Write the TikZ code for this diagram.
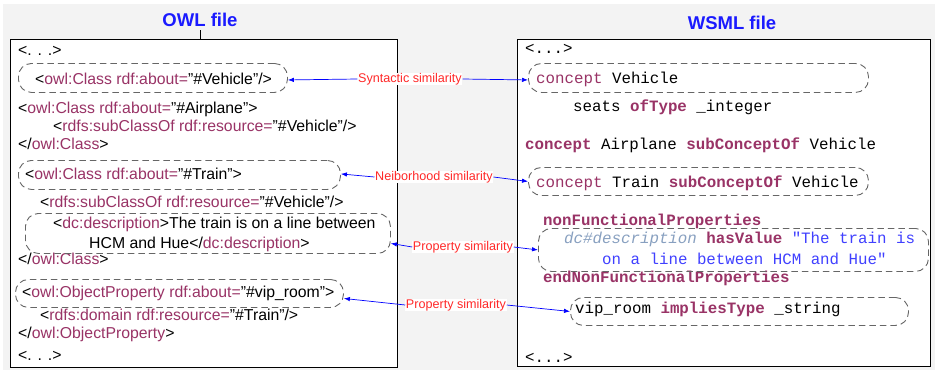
\documentclass[tikz,border=0pt]{standalone}
\usepackage{fontspec}
\setmainfont{Liberation Sans}
\setmonofont{Liberation Mono}
\usetikzlibrary{arrows.meta}
\usetikzlibrary{backgrounds}

\definecolor{tagcol}{RGB}{153,51,102}
\definecolor{strcol}{RGB}{64,64,255}
\definecolor{dccol}{RGB}{136,160,192}
\definecolor{titlecol}{RGB}{26,26,255}
\definecolor{simcol}{RGB}{255,40,40}
\definecolor{bgcol}{RGB}{243,243,243}

\newcommand{\tg}[1]{\textcolor{tagcol}{#1}}
\newcommand{\kw}[1]{\textcolor{tagcol}{\textbf{#1}}}

\begin{document}
\begin{tikzpicture}[x=1pt,y=-1pt,
	owl/.style={anchor=base west, inner sep=0pt, font=\fontsize{15.8}{18}\selectfont},
	wsml/.style={anchor=base west, inner sep=0pt, font=\ttfamily\fontsize{15.8}{18}\selectfont},
	match/.style={draw=black!60, dash pattern=on 6.5pt off 4pt, rounded corners=13pt, line width=0.9pt, anchor=north west, inner sep=0pt},
	simlabel/.style={fill=white, inner sep=0.5pt, text=simcol, font=\fontsize{12.6}{14}\selectfont},
	simarrow/.style={draw=blue, line width=0.7pt, -{Latex[length=6pt,width=4.5pt]}},
	filebox/.style={draw=black, fill=white, line width=1pt, anchor=north west, inner sep=0pt},
	title/.style={text=titlecol, font=\bfseries\fontsize{18.5}{20}\selectfont}]
	
	\fill[white] (0,0) rectangle (935,370);
	\fill[bgcol] (3,4) rectangle (935,370);
	\useasboundingbox (0,0) rectangle (935,370);
	
	% the two files
	\node[title] (owltitle) at (200,20) {OWL file};
	\node[title] (wsmltitle) at (732,23) {WSML file};
	\node[filebox, minimum width=387pt, minimum height=328pt] (owlbox) at (10,39) {};
	\node[filebox, minimum width=413pt, minimum height=327pt] (wsmlbox) at (517,39) {};
	\draw (owltitle.south) -- (owltitle.south |- owlbox.north);
	
	% OWL side
	\node[owl] (owl1) at (18,55) {<. . .>};
	\node[owl] (owl2) at (35,84) {<\tg{owl:Class rdf:about=}"\#Vehicle"/>};
	\node[owl] (owl3) at (18,113) {<\tg{owl:Class rdf:about=}"\#Airplane">};
	\node[owl] (owl4) at (53,131) {<\tg{rdfs:subClassOf rdf:resource=}"\#Vehicle"/>};
	\node[owl] (owl5) at (18,149) {</\tg{owl:Class}>};
	\node[owl] (owl6) at (25,179) {<\tg{owl:Class rdf:about=}"\#Train">};
	\node[owl] (owl7) at (40,207) {<\tg{rdfs:subClassOf rdf:resource=}"\#Vehicle"/>};
	\node[owl] (owl8) at (53,228) {<\tg{dc:description}>The train is on a line between};
	\node[owl] (owl9) at (89,248) {HCM and Hue</\tg{dc:description}>};
	\node[owl] (owl10) at (18,264) {</\tg{owl:Class}>};
	\node[owl] (owl11) at (22,297) {<\tg{owl:ObjectProperty rdf:about=}"\#vip\_room">};
	\node[owl] (owl12) at (40,320) {<\tg{rdfs:domain rdf:resource=}"\#Train"/>};
	\node[owl] (owl13) at (18,338) {</\tg{owl:ObjectProperty}>};
	\node[owl] (owl14) at (18,360) {<. . .>};
	
	\node[match, minimum width=269pt, minimum height=29pt] (owlveh) at (18,63) {};
	\node[match, minimum width=322pt, minimum height=29pt] (owltrain) at (18,160) {};
	\node[match, minimum width=365pt, minimum height=40pt] (owldesc) at (25,213) {};
	\node[match, minimum width=328pt, minimum height=28pt] (owlvip) at (15,279) {};
	
	% WSML side
	\node[wsml] (wsml1) at (525,53) {<...>};
	\node[wsml] (wsml2) at (536,83) {\tg{concept} Vehicle};
	\node[wsml] (wsml3) at (573,111) {seats \kw{ofType} \_integer};
	\node[wsml] (wsml4) at (525,149) {\kw{concept} Airplane \kw{subConceptOf} Vehicle};
	\node[wsml] (wsml5) at (536,187) {\tg{concept} Train \kw{subConceptOf} Vehicle};
	\node[wsml] (wsml6) at (543,225) {\kw{nonFunctionalProperties}};
	\node[wsml] (wsml7) at (564,243) {\textcolor{dccol}{\textit{dc\#description}} \kw{hasValue} \textcolor{strcol}{"The train is}};
	\node[wsml] (wsml8) at (602,264) {\textcolor{strcol}{on a line between HCM and Hue"}};
	\node[wsml] (wsml9) at (543,282) {\kw{endNonFunctionalProperties}};
	\node[wsml] (wsml10) at (575,313) {vip\_room \kw{impliesType} \_string};
	\node[wsml] (wsml11) at (525,362) {<...>};
	
	\node[match, minimum width=340pt, minimum height=29pt] (wsmlveh) at (528,63) {};
	\node[match, minimum width=340pt, minimum height=28pt] (wsmltrain) at (528,167) {};
	\node[match, minimum width=390pt, minimum height=43pt] (wsmldesc) at (538,228) {};
	\node[match, minimum width=338pt, minimum height=28pt] (wsmlvip) at (570,297) {};
	
	% similarities
	\node[simlabel] (syn) at (410,79) {Syntactic similarity};
	\node[simlabel] (nei) at (434,177) {Neiborhood similarity};
	\node[simlabel] (prop1) at (463,247) {Property similarity};
	\node[simlabel] (prop2) at (456,305) {Property similarity};
	
	\draw[simarrow] (syn.west) -- ([yshift=-2pt]owlveh.east);
	\draw[simarrow] (syn.east) -- ([yshift=-2pt]wsmlveh.west);
	\draw[simarrow] (nei.west) -- ([yshift=1pt]owltrain.east);
	\draw[simarrow] (nei.east) -- (wsmltrain.west);
	\draw[simarrow] (prop1.west) -- ([yshift=-10pt]owldesc.east);
	\draw[simarrow] (prop1.east) -- (wsmldesc.west);
	\draw[simarrow] (prop2.west) -- ([yshift=-5pt]owlvip.east);
	\draw[simarrow] (prop2.east) -- (wsmlvip.west);
\end{tikzpicture}
\end{document}
